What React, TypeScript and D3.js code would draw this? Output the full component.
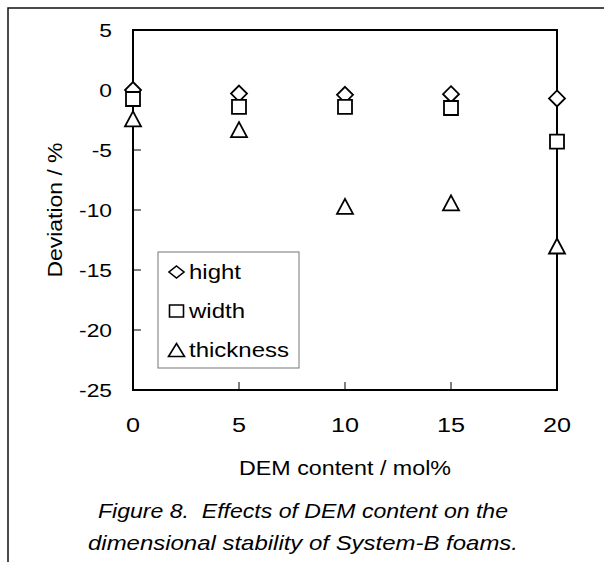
import React from "react";
import * as d3 from "d3";

const content = [0, 5, 10, 15, 20];
const hight = [0, -0.3, -0.4, -0.35, -0.7];
const width = [-0.75, -1.4, -1.4, -1.5, -4.3];
const thickness = [-2.4, -3.3, -9.7, -9.4, -13.0];
const xTicks = [0, 5, 10, 15, 20];
const yTicks = [5, 0, -5, -10, -15, -20, -25];
const legendLabels = ["hight", "width", "thickness"];

const FONT = '"Liberation Sans", Arial, sans-serif';
// the original figure's text is a bit stretched sideways
const SX = 1.2;

// marker outlines, centred on 0,0
const diamond = (rx: number, ry: number) => `M0,${-ry}L${rx},0L0,${ry}L${-rx},0Z`;
const square = (rx: number, ry: number) => `M${-rx},${-ry}H${rx}V${ry}H${-rx}Z`;
const triangle = (w: number, h: number) =>
  `M0,${-h / 2}L${w / 2},${h / 2}L${-w / 2},${h / 2}Z`;

const App: React.FC = () => {
  const W = 604;
  const H = 562;
  const margin = { top: 30, right: 47, bottom: 172, left: 133 };

  const x = d3
    .scaleLinear()
    .domain([0, 20])
    .range([margin.left, W - margin.right]);
  const y = d3
    .scaleLinear()
    .domain([-25, 5])
    .range([H - margin.bottom, margin.top]);

  const series = [
    { name: legendLabels[0], values: hight, d: diamond(8, 8), legend: diamond(7.5, 6) },
    { name: legendLabels[1], values: width, d: square(7, 7), legend: square(7, 6) },
    {
      name: legendLabels[2],
      values: thickness,
      d: triangle(16, 15),
      legend: triangle(16, 13),
    },
  ];

  const [x0, x1] = x.range();
  const [y0, y1] = y.range();

  return (
    <svg
      width={W}
      height={H}
      style={{ position: "absolute", left: 0, top: 0, background: "#fff" }}
      fontFamily={FONT}
    >
      {/* outer frame (top & left) */}
      <path d={`M8,${H}V8H${W}`} fill="none" stroke="#111" strokeWidth={1.5} />

      {/* ticks, inward */}
      {xTicks.slice(1, -1).map((t) => (
        <line key={"xt" + t} x1={x(t)} x2={x(t)} y1={y0} y2={y0 - 8} stroke="#000" strokeWidth={1} />
      ))}
      {yTicks.slice(1, -1).map((t) => (
        <line key={"yt" + t} x1={x0} x2={x0 + 8} y1={y(t)} y2={y(t)} stroke="#000" strokeWidth={1} />
      ))}

      {/* plot frame */}
      <rect
        x={x0}
        y={y1}
        width={x1 - x0}
        height={y0 - y1}
        fill="none"
        stroke="#000"
        strokeWidth={2}
      />

      {/* tick labels */}
      {xTicks.map((t) => (
        <text
          key={"xl" + t}
          transform={`translate(${x(t)},432) scale(${SX},1)`}
          textAnchor="middle"
          fontSize={21}
        >
          {t}
        </text>
      ))}
      {yTicks.map((t) => (
        <text
          key={"yl" + t}
          transform={`translate(112,${y(t)}) scale(${SX},1)`}
          dy="0.35em"
          textAnchor="end"
          fontSize={19}
        >
          {t}
        </text>
      ))}

      {/* axis titles */}
      <text
        x={(x0 + x1) / 2}
        y={475}
        textAnchor="middle"
        fontSize={21}
        textLength={212}
        lengthAdjust="spacingAndGlyphs"
      >
        DEM content / mol%
      </text>
      <text
        transform={`translate(62,${(y0 + y1) / 2}) rotate(-90)`}
        textAnchor="middle"
        fontSize={20}
        textLength={135}
        lengthAdjust="spacingAndGlyphs"
      >
        Deviation / %
      </text>

      {/* markers */}
      {series.map((s) => (
        <g key={s.name}>
          {s.values.map((v, i) => (
            <path
              key={i}
              d={s.d}
              transform={`translate(${x(content[i])},${y(v)})`}
              fill="#fff"
              stroke="#000"
              strokeWidth={1.8}
            />
          ))}
        </g>
      ))}

      {/* legend */}
      <rect x={158} y={252} width={141} height={116} fill="#fff" stroke="#777" strokeWidth={1} />
      {series.map((s, i) => {
        const cy = 272 + i * 39;
        return (
          <g key={"lg" + s.name}>
            <path
              d={s.legend}
              transform={`translate(176.5,${cy})`}
              fill="#fff"
              stroke="#000"
              strokeWidth={1.6}
            />
            <text
              transform={`translate(189,${cy}) scale(${SX},1)`}
              dy="0.35em"
              fontSize={20}
            >
              {s.name}
            </text>
          </g>
        );
      })}

      {/* caption */}
      <text
        x={303}
        y={518}
        textAnchor="middle"
        fontSize={21}
        fontStyle="italic"
        textLength={410}
        lengthAdjust="spacingAndGlyphs"
        style={{ whiteSpace: "pre" }}
      >
        {"Figure 8.  Effects of DEM content on the"}
      </text>
      <text
        x={303}
        y={550}
        textAnchor="middle"
        fontSize={21}
        fontStyle="italic"
        textLength={430}
        lengthAdjust="spacingAndGlyphs"
      >
        dimensional stability of System-B foams.
      </text>
    </svg>
  );
};

export default App;
